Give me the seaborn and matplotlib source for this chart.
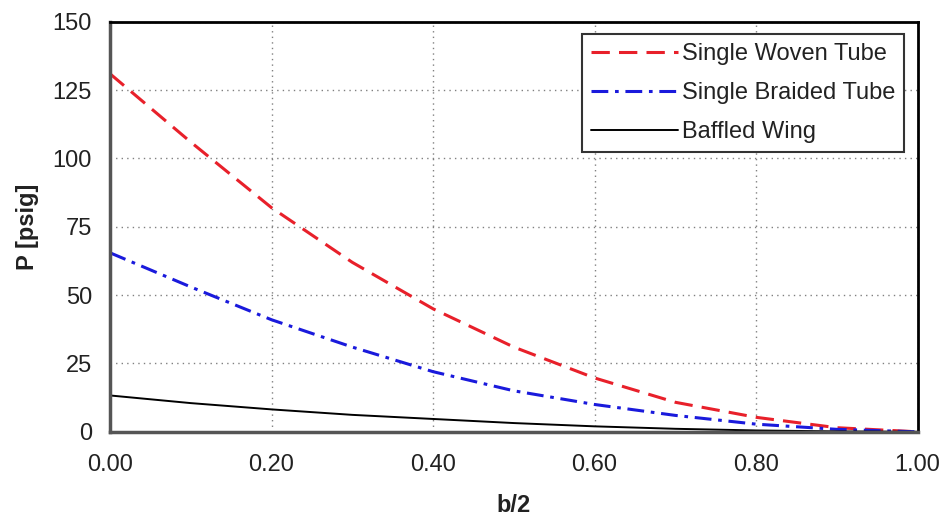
import numpy as np
import pandas as pd
import matplotlib
matplotlib.use("Agg")
import matplotlib.pyplot as plt
import seaborn as sns

x_vals = [0.0, 0.1, 0.2, 0.3, 0.4, 0.5, 0.6, 0.7, 0.8, 0.9, 1.0]
woven = [131, 106, 82, 62, 45, 31, 19.7, 10.8, 5.3, 1.5, 0]
braided = [65.5, 53, 41, 31, 22, 15, 10, 6, 2.8, 0.9, 0]
baffled = [13.3, 10.5, 8.2, 6.2, 4.7, 3.2, 2.0, 1.1, 0.5, 0.15, 0]
series_names = ["Single Woven Tube", "Single Braided Tube", "Baffled Wing"]
x_ticks = [0.0, 0.2, 0.4, 0.6, 0.8, 1.0]
y_ticks = [0, 25, 50, 75, 100, 125, 150]

sns.set_style("white")
plt.rcParams['font.family'] = ['Liberation Sans', 'DejaVu Sans']

df = pd.concat([
    pd.DataFrame({"x": x_vals, "P": vals, "series": name})
    for name, vals in zip(series_names, [woven, braided, baffled])
])

fig = plt.figure(figsize=(9.48, 5.19), dpi=100)
ax = fig.add_axes([0.116, 0.168, 0.852, 0.790])

palette = {"Single Woven Tube": "#e8202a", "Single Braided Tube": "#1a1adc", "Baffled Wing": "#000000"}
sns.lineplot(data=df, x="x", y="P", hue="series", palette=palette, ax=ax, legend=False)

styles = [((0, (6, 3)), 2.2), ((0, (5.5, 2.2, 1.2, 2.2)), 2.2), ("-", 1.4)]
for line, (ls, lw) in zip(ax.get_lines(), styles):
    line.set_linestyle(ls)
    line.set_linewidth(lw)

ax.set_xlim(0, 1)
ax.set_ylim(0, 150)
ax.set_xticks(x_ticks)
ax.set_xticklabels([f"{t:.2f}" for t in x_ticks])
ax.set_yticks(y_ticks)
ax.grid(True, color="#808080", linestyle=(0, (1, 3)), linewidth=1.0)
ax.set_axisbelow(True)

ax.tick_params(axis="both", labelsize=17, length=4, width=1.2, color="#555555",
               labelcolor="#222222", direction="out")
ax.tick_params(axis="x", pad=12)
ax.tick_params(axis="y", pad=9)
ax.set_xlabel("b/2", fontsize=17, fontweight="bold", labelpad=13, color="#222222")
ax.set_ylabel("P [psig]", fontsize=17, fontweight="bold", labelpad=10, color="#222222")

for side in ["top", "right"]:
    ax.spines[side].set_color("black")
    ax.spines[side].set_linewidth(2)
for side in ["left", "bottom"]:
    ax.spines[side].set_color("#555555")
    ax.spines[side].set_linewidth(2.5)

leg = ax.legend(ax.get_lines(), series_names, loc="upper right", fontsize=17,
                frameon=True, fancybox=False, edgecolor="#333333", framealpha=1,
                handlelength=3.7, handletextpad=0.15, borderpad=0.38, labelspacing=0.72,
                borderaxespad=0, bbox_to_anchor=(0.983, 0.97))
leg.get_frame().set_linewidth(1.5)
for t in leg.get_texts():
    t.set_color("#222222")

fig.savefig("out.png", dpi=100)
